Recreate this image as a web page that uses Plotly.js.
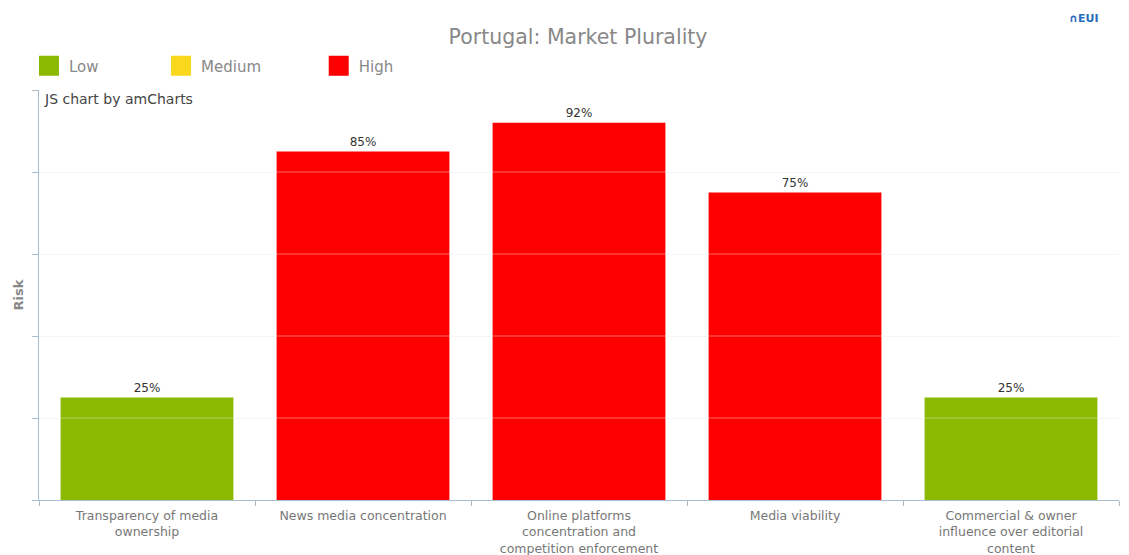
<!DOCTYPE html>
<html>
<head>
<meta charset="utf-8">
<script src="https://cdn.plot.ly/plotly-3.0.1.min.js"></script>
<style>html,body{margin:0;padding:0;background:#fff;}#chart{width:1129px;height:555px;}</style>
</head>
<body>
<div id="chart"></div>
<script>
// ---- data ----
const categories = [
  "Transparency of media<br>ownership",
  "News media concentration",
  "Online platforms<br>concentration and<br>competition enforcement",
  "Media viability",
  "Commercial & owner<br>influence over editorial<br>content"
];
const values = [25, 85, 92, 75, 25];
const levels = ["Low", "High", "High", "High", "Low"];
const legendLevels = ["Low", "Medium", "High"];
const levelColors = {Low: "#8bb800", Medium: "#f9d71c", High: "#ff0000"};
const yTicks = [0, 20, 40, 60, 80, 100];

// ---- traces ----
const barTrace = {
  type: "bar",
  x: categories,
  y: values,
  width: 0.8,
  marker: {color: levels.map(l => levelColors[l]), line: {width: 0}},
  texttemplate: "%{y}%",
  textposition: "outside",
  textfont: {size: 12, color: "#333333", family: "DejaVu Sans"},
  cliponaxis: false,
  showlegend: false,
  hoverinfo: "skip"
};

const legendNames = ["legend", "legend2", "legend3"];
const legendTraces = legendLevels.map((lv, i) => ({
  type: "scatter",
  mode: "markers",
  x: [categories[0]],
  y: [null],
  name: lv,
  legend: legendNames[i],
  marker: {symbol: "square", size: 16, color: levelColors[lv], line: {width: 4, color: levelColors[lv]}},
  showlegend: true,
  hoverinfo: "skip"
}));

const legendX = [-0.0093, 0.113, 0.259];
const legendStyle = (x) => ({
  x: x, xanchor: "left", y: 1.0585, yanchor: "middle",
  orientation: "h", bgcolor: "rgba(0,0,0,0)",
  font: {size: 15, color: "#888888", family: "DejaVu Sans"},
  itemsizing: "trace"
});

const gridShapes = yTicks.filter(v => v > 0 && v < 100).map(v => ({
  type: "line", xref: "paper", x0: 0, x1: 1, yref: "y", y0: v, y1: v,
  layer: "above", line: {color: "rgba(255,255,255,0.4)", width: 1}
}));

const layout = {
  width: 1129, height: 555,
  margin: {l: 39, r: 10, t: 90, b: 55},
  paper_bgcolor: "#ffffff", plot_bgcolor: "#ffffff",
  font: {family: "DejaVu Sans", color: "#777777"},
  title: {
    text: "Portugal: Market Plurality",
    font: {size: 20.5, color: "#888888", family: "DejaVu Sans"},
    x: 0.512, xanchor: "center", yref: "container", y: 0.933, yanchor: "middle"
  },
  xaxis: {
    type: "category",
    showline: true, linecolor: "#a7bccd", linewidth: 1,
    ticks: "outside", tickson: "boundaries", ticklen: 5, tickcolor: "#a7bccd",
    showgrid: false,
    ticklabelstandoff: 4,
    tickfont: {size: 12.5, color: "#777777", family: "DejaVu Sans"},
    automargin: false, fixedrange: true
  },
  yaxis: {
    range: [0, 100], tickvals: yTicks,
    showticklabels: false,
    showline: true, linecolor: "#a7bccd", linewidth: 1,
    ticks: "outside", ticklen: 6, tickcolor: "#a7bccd",
    showgrid: true, gridcolor: "#f3f3f3", zeroline: false,
    title: {text: "<b>Risk</b>", font: {size: 13, color: "#888888", family: "DejaVu Sans"}, standoff: 5},
    automargin: false, fixedrange: true
  },
  legend: legendStyle(legendX[0]),
  legend2: legendStyle(legendX[1]),
  legend3: legendStyle(legendX[2]),
  shapes: gridShapes,
  annotations: [
    {text: "JS chart by amCharts", xref: "paper", yref: "paper", x: 0.003, y: 0.977,
     xanchor: "left", yanchor: "middle", showarrow: false,
     font: {size: 14, color: "#444444", family: "DejaVu Sans"}},
    {text: "<b>∩EUI</b>", xref: "paper", yref: "paper", x: 0.982, y: 1.175,
     xanchor: "right", yanchor: "middle", showarrow: false,
     font: {size: 11, color: "#2a6ebb", family: "DejaVu Sans"}}
  ],
  hovermode: false,
  bargap: 0.2
};

Plotly.newPlot("chart", [barTrace, ...legendTraces], layout, {displayModeBar: false, staticPlot: true});
</script>
</body>
</html>
